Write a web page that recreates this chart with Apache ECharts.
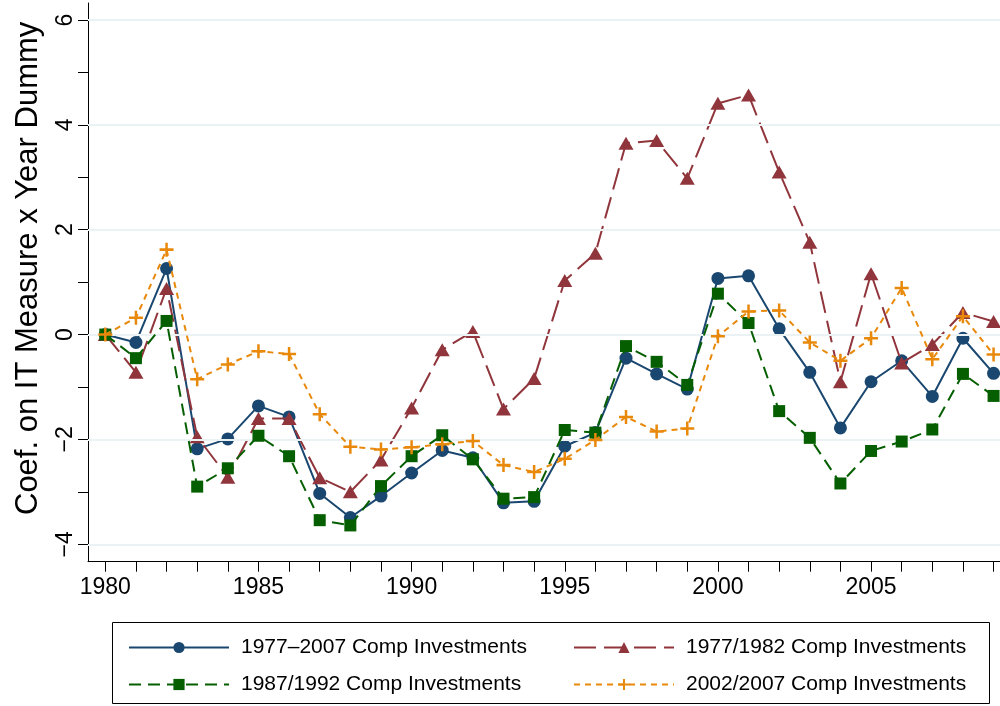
<!DOCTYPE html>
<html>
<head>
<meta charset="utf-8">
<script src="https://cdn.jsdelivr.net/npm/echarts@6/dist/echarts.min.js"></script>
<style>html,body{margin:0;padding:0;background:#fff}#c{width:1000px;height:706px}</style>
</head>
<body>
<div id="c"></div>
<script>
const years = [1980,1981,1982,1983,1984,1985,1986,1987,1988,1989,1990,1991,1992,1993,1994,1995,1996,1997,1998,1999,2000,2001,2002,2003,2004,2005,2006,2007,2008,2009];
const seriesNames = ["1977\u20132007 Comp Investments","1977/1982 Comp Investments","1987/1992 Comp Investments","2002/2007 Comp Investments"];
const comp7707 = [0,-0.15,1.26,-2.18,-1.99,-1.36,-1.57,-3.03,-3.49,-3.08,-2.64,-2.21,-2.35,-3.21,-3.18,-2.13,-1.87,-0.45,-0.75,-1.04,1.07,1.12,0.11,-0.72,-1.78,-0.90,-0.50,-1.18,-0.07,-0.74];
const comp7782 = [0,-0.72,0.88,-1.95,-2.72,-1.60,-1.60,-2.73,-3.00,-2.39,-1.40,-0.29,0.06,-1.42,-0.84,1.03,1.55,3.65,3.70,2.98,4.41,4.57,3.10,1.76,-0.90,1.16,-0.54,-0.19,0.42,0.25];
const comp8792 = [0,-0.45,0.26,-2.90,-2.55,-1.93,-2.32,-3.54,-3.64,-2.89,-2.32,-1.92,-2.38,-3.13,-3.10,-1.82,-1.87,-0.22,-0.52,-0.96,0.78,0.22,-1.46,-1.97,-2.84,-2.22,-2.04,-1.81,-0.75,-1.17];
const comp0207 = [0,0.32,1.62,-0.85,-0.57,-0.32,-0.37,-1.52,-2.14,-2.19,-2.15,-2.09,-2.03,-2.49,-2.62,-2.37,-2.01,-1.57,-1.85,-1.79,-0.03,0.44,0.46,-0.15,-0.50,-0.07,0.89,-0.47,0.35,-0.38];
const xLabelValues = [1980,1985,1990,1995,2000,2005];
const yLabelValues = [-4,-2,0,2,4,6];
const yTickValues = [-4,-3,-2,-1,0,1,2,3,4,5,6];

const pair = arr => years.map((y,i)=>[y,arr[i]]);
const plusPath = 'path://M4.1,0H5.9V4.1H10V5.9H5.9V10H4.1V5.9H0V4.1H4.1Z';
const font = 'Liberation Sans, Arial, Helvetica, sans-serif';

const chart = echarts.init(document.getElementById('c'), null, {renderer:'canvas'});
chart.setOption({
  animation:false,
  backgroundColor:'#ffffff',
  grid:{left:88, right:0, top:3, bottom:144.3, containLabel:false, outerBoundsMode:'none'},
  xAxis:{
    type:'value', min:1979.435, max:2009.21,
    axisLine:{show:true, onZero:false, lineStyle:{color:'#000', width:1}},
    axisTick:{show:true, length:10, customValues:years, lineStyle:{color:'#000', width:1}},
    axisLabel:{customValues:xLabelValues, formatter:v=>String(v), fontSize:23, color:'#000', fontFamily:font, margin:14},
    splitLine:{show:false}
  },
  yAxis:{
    type:'value', min:-4.332, max:6.324,
    name:'Coef. on IT Measure x Year Dummy', nameLocation:'middle', nameGap:44, nameRotate:90,
    nameTextStyle:{fontSize:31, color:'#000', fontFamily:font, padding:[0,0,0,28]},
    axisLine:{show:true, onZero:false, lineStyle:{color:'#000', width:1}},
    axisTick:{show:true, length:10, customValues:yTickValues, lineStyle:{color:'#000', width:1}},
    axisLabel:{customValues:yLabelValues, rotate:90, fontSize:23, color:'#000', fontFamily:font, margin:11,
      formatter:v=>String(v).replace('-','\u2212')},
    splitLine:{show:false}
  },
  legend:[
    {data:[seriesNames[0],seriesNames[2]], orient:'vertical', left:123, top:632, itemWidth:100, itemHeight:14, itemGap:16,
     textStyle:{fontSize:21, color:'#000', fontFamily:font, padding:[0,0,0,7]}},
    {data:[seriesNames[1],seriesNames[3]], orient:'vertical', left:568, top:632, itemWidth:100, itemHeight:14, itemGap:16,
     textStyle:{fontSize:21, color:'#000', fontFamily:font, padding:[0,0,0,7]}}
  ],
  graphic:[{type:'rect', shape:{x:112.5, y:622.5, width:877, height:81}, style:{fill:'none', stroke:'#000', lineWidth:1}, silent:true}],
  series:[
    {type:'line', name:'grid', data:[], z:1, silent:true,
     markLine:{silent:true, symbol:'none', label:{show:false}, lineStyle:{color:'#eaf2f3', width:2, type:'solid'},
       data:yLabelValues.map(v=>({yAxis:v}))}},
    {type:'line', name:seriesNames[0], data:pair(comp7707), z:3,
     symbol:'circle', symbolSize:13, showAllSymbol:true,
     lineStyle:{color:'#1a476f', width:2, type:'solid'}, itemStyle:{color:'#1a476f'}},
    {type:'line', name:seriesNames[1], data:pair(comp7782), z:4,
     symbol:'triangle', symbolSize:[15,13], showAllSymbol:true,
     lineStyle:{color:'#90353b', width:2, type:[22,8]}, itemStyle:{color:'#90353b'}},
    {type:'line', name:seriesNames[2], data:pair(comp8792), z:5,
     symbol:'rect', symbolSize:12, showAllSymbol:true,
     lineStyle:{color:'#055f00', width:2, type:[12,7]}, itemStyle:{color:'#055f00'}},
    {type:'line', name:seriesNames[3], data:pair(comp0207), z:6,
     symbol:plusPath, symbolSize:14, showAllSymbol:true,
     lineStyle:{color:'#e8890c', width:2, type:[6,5]}, itemStyle:{color:'#e8890c'}}
  ]
});
</script>
</body>
</html>
